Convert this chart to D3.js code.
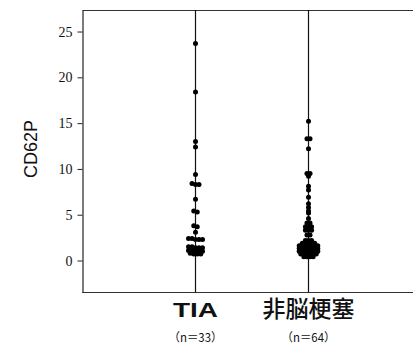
<!DOCTYPE html>
<html><head><meta charset="utf-8">
<script src="https://cdn.jsdelivr.net/npm/d3@7"></script>
<style>
html,body{margin:0;padding:0;background:#fff;}
svg{display:block;}
</style></head>
<body>
<svg id="chart" width="413" height="344"></svg>
<script>
const categories = ["TIA", "非脳梗塞"];
const counts = ["（n＝33）", "（n＝64）"];
const yTicks = [0, 5, 10, 15, 20, 25];
const yLabel = "CD62P";
const tiaValues = [23.7, 18.4, 13.0, 12.4, 9.4, 8.4, 8.3, 8.3, 6.7, 5.4, 5.3, 3.8, 3.7, 3.1,
  2.4, 2.4, 2.3, 2.3, 2.3,
  1.5, 1.5, 1.4, 1.4, 1.4,
  1.1, 1.1, 1.0, 1.0, 1.0,
  0.8, 0.7, 0.7, 0.7];
const nonInfarctValues = [15.2, 13.3, 13.3, 12.2, 9.5, 9.5, 9.2, 8.1, 7.7, 6.9, 6.2, 5.8, 5.4, 5.2, 4.6,
  4.1, 4.1, 3.7, 3.7, 3.7, 3.3, 3.3, 3.3, 2.8, 2.8,
  2.2, 2.2, 2.2,
  1.9, 1.9, 1.9, 1.9, 1.9,
  1.6, 1.6, 1.6, 1.6, 1.6, 1.6, 1.6,
  1.3, 1.3, 1.3, 1.3, 1.3, 1.3, 1.3,
  1.0, 1.0, 1.0, 1.0, 1.0, 1.0, 1.0,
  0.7, 0.7, 0.7, 0.7, 0.7, 0.7,
  0.4, 0.4, 0.4, 0.4];
const seriesValues = [tiaValues, nonInfarctValues];

(function () {
const svg = d3.select("#chart");
const yTop = 10, yBottom = 292.5, xLeft = 82.5, xRight = 413;
const y = d3.scaleLinear().domain([-3.49, 27.35]).range([yBottom, yTop]);
const x = d3.scalePoint().domain(categories).range([xLeft, 421.5]).padding(1);

// frame lines
svg.append("line").attr("x1", xLeft).attr("x2", xRight).attr("y1", yTop + 0.5).attr("y2", yTop + 0.5)
  .attr("stroke", "#333").attr("stroke-width", 1.2);
svg.append("line").attr("x1", xLeft).attr("x2", xRight).attr("y1", yBottom).attr("y2", yBottom)
  .attr("stroke", "#333").attr("stroke-width", 1.2);

// y axis
const yAxis = d3.axisLeft(y).tickValues(yTicks).tickSize(5).tickPadding(5).tickSizeOuter(0);
const ga = svg.append("g").attr("transform", `translate(${xLeft},0)`).call(yAxis);
ga.select(".domain").attr("stroke", "#222").attr("stroke-width", 1.2);
ga.selectAll(".tick line").attr("stroke", "#222");
ga.selectAll(".tick text").attr("font-family", "'Liberation Serif', serif").attr("font-size", 14).attr("fill", "#111");

// y label
svg.append("text").attr("transform", `translate(37,149) rotate(-90)`).attr("text-anchor", "middle")
  .attr("font-family", "'Liberation Sans', Arial, sans-serif").attr("font-size", 18).attr("fill", "#111")
  .text(yLabel);

// category vertical lines
svg.selectAll("line.cat").data(categories).enter().append("line").attr("class", "cat")
  .attr("x1", d => x(d)).attr("x2", d => x(d)).attr("y1", yTop).attr("y2", yBottom)
  .attr("stroke", "#111").attr("stroke-width", 1.2);

// dot layout: group near-equal values into rows, spread horizontally
const spacing = [3.5, 3.1], r = 2.5;
function layout(vals, cx, sp) {
  const sorted = vals.slice().sort((a, b) => b - a);
  const rows = [];
  sorted.forEach(v => {
    const last = rows[rows.length - 1];
    if (last && Math.abs(last[0] - v) <= 0.15) last.push(v); else rows.push([v]);
  });
  const pts = [];
  rows.forEach(row => {
    const n = row.length;
    row.forEach((v, i) => pts.push({ v, x: cx + (i - (n - 1) / 2) * sp }));
  });
  return pts;
}
categories.forEach((c, k) => {
  const pts = layout(seriesValues[k], x(c), spacing[k]);
  svg.append("g").selectAll("circle").data(pts).enter().append("circle")
    .attr("cx", d => d.x).attr("cy", d => y(d.v)).attr("r", r).attr("fill", "#000");
});

// category labels
svg.selectAll("text.cat").data(categories).enter().append("text").attr("class", "cat")
  .attr("x", d => x(d)).attr("y", 317).attr("text-anchor", "middle")
  .attr("font-family", (d, i) => i === 0 ? "'Liberation Sans', Arial, sans-serif" : "'Noto Sans CJK JP', sans-serif")
  .attr("font-weight", (d, i) => i === 0 ? "bold" : "500")
  .attr("font-size", (d, i) => i === 0 ? 21 : 23)
  .attr("textLength", (d, i) => i === 0 ? 45 : 92)
  .attr("lengthAdjust", "spacingAndGlyphs")
  .attr("fill", "#111")
  .text(d => d);
svg.selectAll("text.cnt").data(counts).enter().append("text").attr("class", "cnt")
  .attr("x", (d, i) => x(categories[i])).attr("y", 342).attr("text-anchor", "middle")
  .attr("font-family", "'Noto Sans CJK JP', sans-serif").attr("font-size", 12).attr("fill", "#111")
  .attr("textLength", 54).attr("lengthAdjust", "spacingAndGlyphs")
  .text(d => d);
})();
</script>
</body></html>
